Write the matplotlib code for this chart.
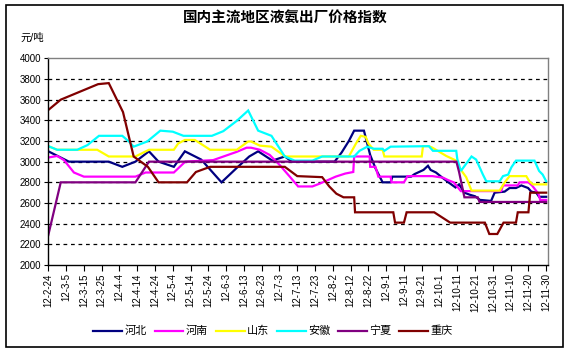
import matplotlib
matplotlib.use("Agg")
import matplotlib.pyplot as plt
from matplotlib.patches import Rectangle

plt.rcParams['font.family'] = ['Liberation Sans', 'Noto Sans CJK SC', 'DejaVu Sans']

# ── Data (x = days since 2012-02-24) ───────────────────────────────
hebei_x = [0, 11.6, 34, 41.6, 49, 56.6, 62, 70.6, 76.8, 86, 97.4, 106, 113, 118, 126, 133,
           137, 161, 165, 169, 172, 177.5, 181, 184, 188, 192.5, 193.5, 204, 206, 211,
           213.5, 215, 218, 221.6, 225, 229, 231, 234, 237, 240, 242.7, 249, 251, 256.6,
           259.4, 263, 266, 269.8, 271.6, 274.4, 276, 280]
hebei_y = [3100, 3000, 3000, 2950, 3000, 3100, 3000, 2950, 3100, 3020, 2800, 2940, 3050, 3100, 3010, 3050,
           3000, 3000, 3090, 3200, 3300, 3300, 3065, 2935, 2800, 2800, 2855, 2855, 2880, 2920,
           2960, 2920, 2895, 2845, 2800, 2750, 2780, 2700, 2680, 2665, 2630, 2620, 2700, 2710,
           2745, 2745, 2770, 2745, 2710, 2700, 2660, 2660]

henan_x = [0, 5, 8.8, 14.4, 20, 49, 54.7, 70.6, 77, 92.7, 106, 111.5, 114, 119, 124.5, 130,
           135.8, 140.5, 148.5, 153, 161.6, 167, 171.5, 172, 180.7, 181, 184, 185.6, 192.5,
           193, 200, 202, 216, 222, 225, 228, 232, 254.7, 255.7, 264, 265, 270, 272, 275.6,
           276.6, 280]
henan_y = [3040, 3055, 3015, 2895, 2855, 2855, 2895, 2895, 3000, 3015, 3095, 3135, 3135, 3115, 3065, 2970,
           2855, 2760, 2760, 2790, 2855, 2885, 2900, 3050, 3050, 2950, 2950, 2855, 2855,
           2800, 2800, 2860, 2860, 2845, 2820, 2800, 2715, 2715, 2770, 2770, 2800, 2800, 2770, 2690,
           2630, 2630]

shandong_x = [0, 5, 27.5, 34, 49, 56.6, 70.6, 73, 76.8, 82.4, 91, 106, 112.4, 114, 119, 125.5,
              132, 133, 169, 173, 175.7, 178.5, 180, 183, 188, 189, 210, 210.7, 214, 216,
              223.8, 229.4, 231, 235, 238, 253.8, 256.7, 259.4, 268.8, 270.5, 272.5, 280]
shandong_y = [3150, 3115, 3115, 3050, 3050, 3115, 3115, 3175, 3210, 3210, 3115, 3115, 3195, 3195, 3155, 3145,
              3065, 3050, 3050, 3175, 3250, 3240, 3175, 3115, 3115, 3050, 3050, 3150, 3150, 3135,
              3055, 3010, 2945, 2850, 2720, 2720, 2800, 2860, 2860, 2810, 2780, 2780]

anhui_x = [0, 5, 16.3, 22, 28.5, 41.6, 45.3, 48, 55.6, 63, 70, 76, 92, 98.4, 106, 112.4, 118,
           125.5, 133, 138.6, 148.5, 154, 172, 175, 179.4, 183, 188, 189, 192.5, 214, 216.3,
           229.4, 230, 232, 238, 240.6, 244.4, 246.3, 253.8, 255.7, 258.6, 260.4, 263, 273.4,
           276, 278, 280]
anhui_y = [3150, 3115, 3115, 3160, 3250, 3250, 3195, 3145, 3195, 3300, 3290, 3250, 3250, 3295, 3395, 3495, 3300,
           3250, 3050, 3010, 3010, 3050, 3050, 3105, 3145, 3125, 3125, 3105, 3145, 3150, 3105,
           3105, 3025, 2910, 3050, 3020, 2875, 2810, 2810, 2860, 2875, 2945, 3010, 3010,
           2910, 2875, 2810]

ningxia_x = [0, 7, 49, 56.6, 229.5, 231, 234, 241.5, 242.5, 280]
ningxia_y = [2290, 2800, 2800, 3000, 3000, 2900, 2655, 2655, 2610, 2610]

chongqing_x = [0, 7, 14, 28, 34, 42, 48, 56, 62, 78, 83, 91, 133, 140, 154, 158, 162, 166, 172,
               172.5, 194, 195, 200, 201.5, 217, 226, 245.5, 248, 252.5, 256, 263, 264, 270,
               271, 280]
chongqing_y = [3500, 3600, 3650, 3750, 3760, 3480, 3050, 2950, 2800, 2800, 2900, 2950, 2950, 2860, 2850, 2760, 2690, 2655, 2655,
               2510, 2510, 2410, 2410, 2510, 2510, 2410, 2410, 2300, 2300, 2410, 2410, 2510, 2510,
               2700, 2700]

tick_days = list(range(0, 281, 10))
tick_labels = ["12-2-24", "12-3-5", "12-3-15", "12-3-25", "12-4-4", "12-4-14", "12-4-24",
               "12-5-4", "12-5-14", "12-5-24", "12-6-3", "12-6-13", "12-6-23", "12-7-3",
               "12-7-13", "12-7-23", "12-8-2", "12-8-12", "12-8-22", "12-9-1", "12-9-11",
               "12-9-21", "12-10-1", "12-10-11", "12-10-21", "12-10-31", "12-11-10",
               "12-11-20", "12-11-30"]

series = [
    ("河北", hebei_x, hebei_y, "#000080"),
    ("河南", henan_x, henan_y, "#FF00FF"),
    ("山东", shandong_x, shandong_y, "#FFFF00"),
    ("安徽", anhui_x, anhui_y, "#00FFFF"),
    ("宁夏", ningxia_x, ningxia_y, "#800080"),
    ("重庆", chongqing_x, chongqing_y, "#800000"),
]

# ── Figure ─────────────────────────────────────────────────────────
fig = plt.figure(figsize=(5.71, 3.53), dpi=100)
fig.patches.append(Rectangle((0.010, 0.017), 0.976, 0.968, transform=fig.transFigure,
                             fill=False, edgecolor="black", linewidth=1.2))

ax = fig.add_axes([0.0846, 0.2493, 0.8751, 0.5855])

for name, xs, ys, color in series:
    ax.plot(xs, ys, color=color, linewidth=1.6, label=name, solid_joinstyle="miter")

ax.set_xlim(0, 281)
ax.set_ylim(2000, 4000)
ax.set_yticks(range(2000, 4001, 200))
ax.tick_params(axis="y", labelsize=7, length=3, direction="out", pad=2)
ax.set_xticks(tick_days)
ax.set_xticklabels(tick_labels, rotation=90, fontsize=7)
ax.tick_params(axis="x", length=4, direction="out", pad=2)

# dashed black gridlines every 200
for v in range(2200, 4000, 200):
    ax.axhline(v, color="black", linewidth=0.9, linestyle=(0, (3, 3)), zorder=0.5)

ax.spines["top"].set_color("#808080")
ax.spines["right"].set_color("#808080")
for s in ax.spines.values():
    s.set_linewidth(1)

fig.text(0.5, 0.948, "国内主流地区液氨出厂价格指数", ha="center", va="center",
         fontsize=10.5, fontweight="bold")
fig.text(0.035, 0.893, "元/吨", ha="left", va="center", fontsize=7.5)

fig.legend(loc="center", bbox_to_anchor=(0.478, 0.062), ncol=6, frameon=False,
           fontsize=8, handlelength=2.6, handletextpad=0.2, columnspacing=0.7)

fig.savefig("out.png", dpi=100)
